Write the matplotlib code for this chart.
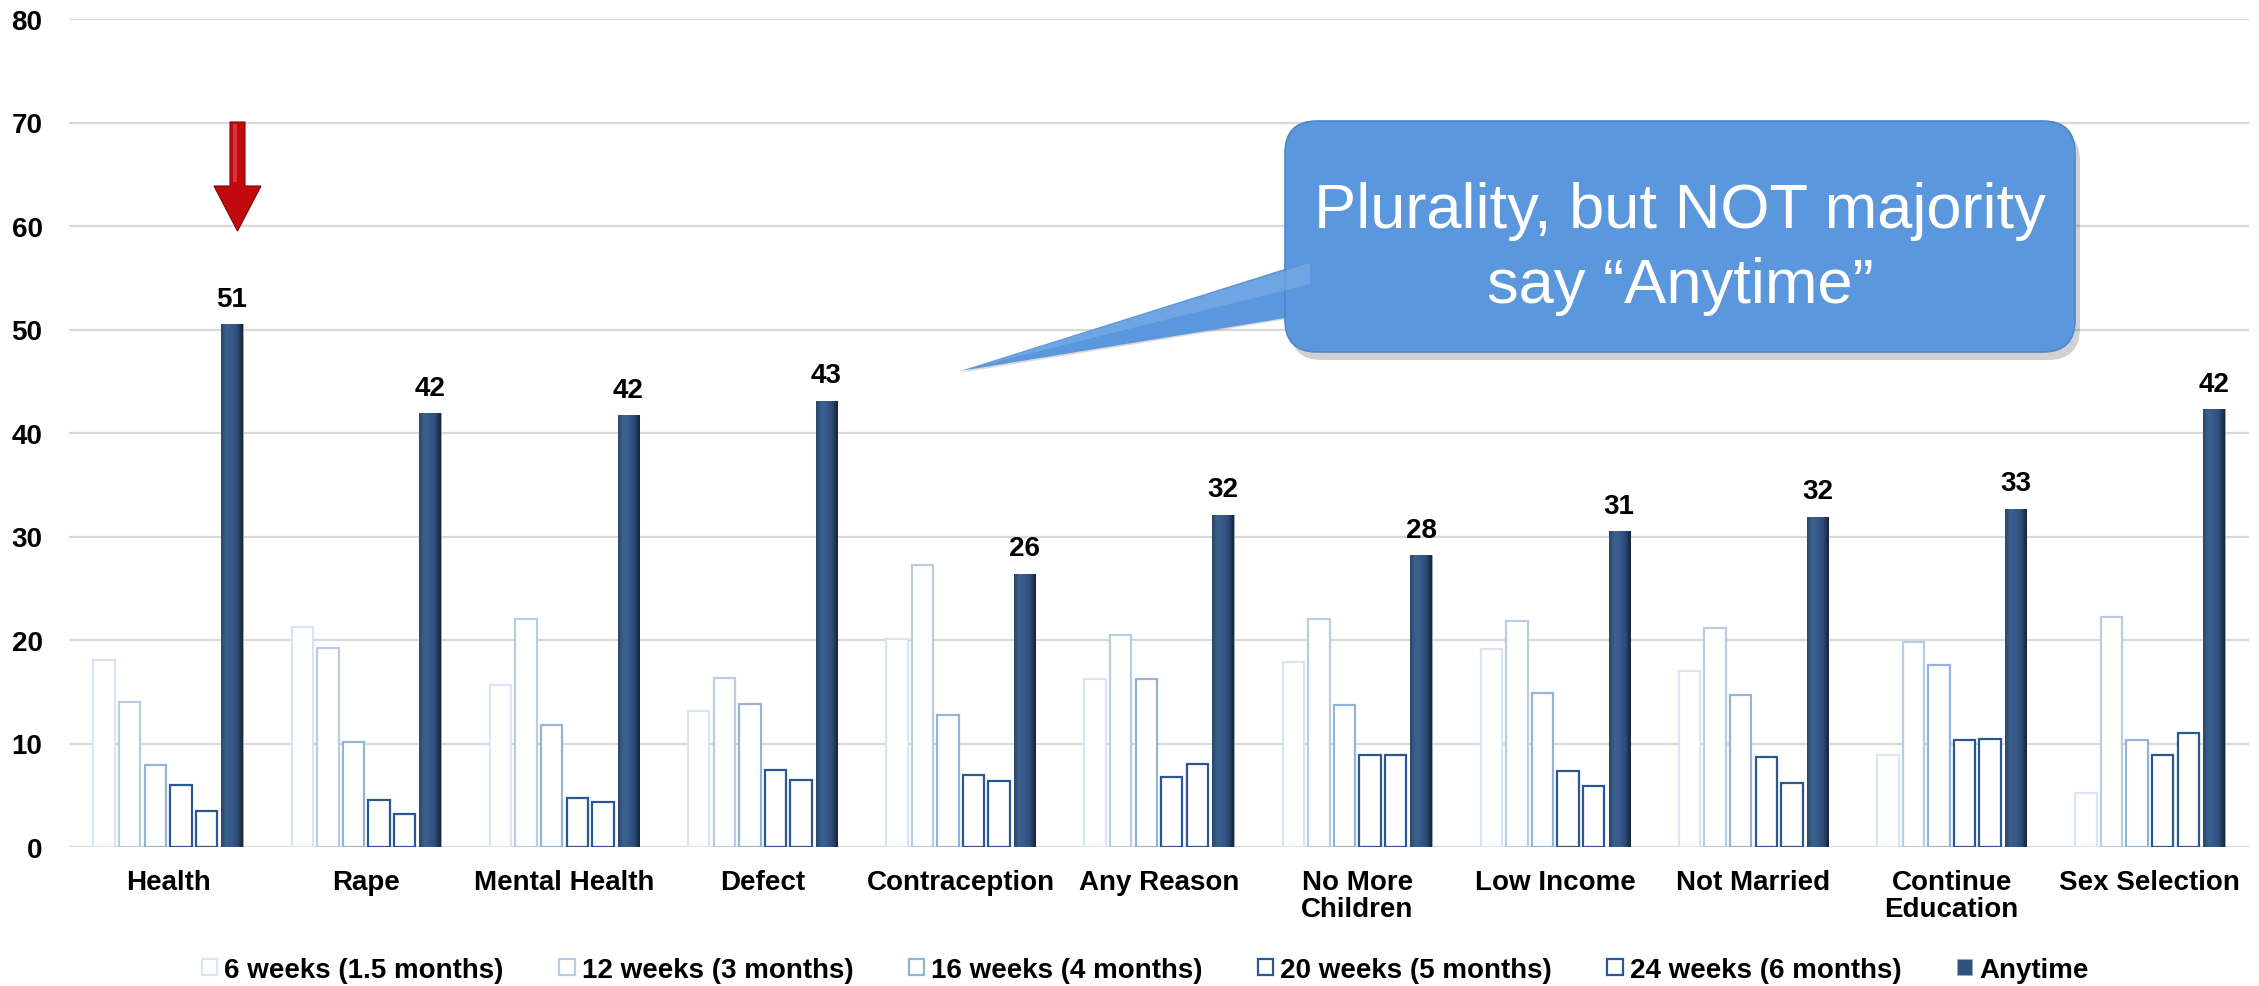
import numpy as np
import matplotlib
matplotlib.use("Agg")
import matplotlib.pyplot as plt
from matplotlib.colors import LinearSegmentedColormap
from matplotlib.patches import FancyBboxPatch, FancyArrow, Polygon

plt.rcParams['font.family'] = ['Liberation Sans', 'DejaVu Sans']

# 数据
categories = ["Health", "Rape", "Mental Health", "Defect", "Contraception", "Any Reason",
              "No More\nChildren", "Low Income", "Not Married", "Continue\nEducation", "Sex Selection"]
series_names = ["6 weeks (1.5 months)", "12 weeks (3 months)", "16 weeks (4 months)",
                "20 weeks (5 months)", "24 weeks (6 months)", "Anytime"]
w6 = [18.1, 21.3, 15.7, 13.1, 20.1, 16.2, 17.9, 19.1, 17.0, 8.9, 5.2]
w12 = [14.0, 19.2, 22.0, 16.3, 27.2, 20.5, 22.0, 21.8, 21.2, 19.8, 22.2]
w16 = [7.9, 10.1, 11.8, 13.8, 12.8, 16.2, 13.7, 14.9, 14.7, 17.6, 10.3]
w20 = [6.0, 4.5, 4.7, 7.4, 7.0, 6.8, 8.9, 7.35, 8.7, 10.3, 8.9]
w24 = [3.5, 3.15, 4.3, 6.5, 6.4, 8.0, 8.9, 5.85, 6.2, 10.4, 11.0]
anytime = [50.5, 41.9, 41.7, 43.1, 26.4, 32.1, 28.2, 30.5, 31.9, 32.7, 42.3]
anytime_labels = ["51", "42", "42", "43", "26", "32", "28", "31", "32", "33", "42"]

outline_colors = ["#dbe5f1", "#b8cce4", "#95b3d7", "#2c5891", "#2c5891"]
any_color = "#2f527f"

fig = plt.figure(figsize=(22.59, 9.87), dpi=100)
W, H = 2259, 987
ax = fig.add_axes([69 / W, 139 / H, (2249 - 69) / W, (848 - 20) / H])

x = np.arange(len(categories))
slot = 0.129
bw = 0.108
outline_data = [w6, w12, w16, w20, w24]
handles = []
for k, vals in enumerate(outline_data):
    b = ax.bar(x + (k - 2.5) * slot, vals, bw, facecolor="white", edgecolor=outline_colors[k],
               linewidth=1.6, zorder=3, label=series_names[k])
    handles.append(b)
bars_any = ax.bar(x + 2.5 * slot, anytime, bw, color=any_color, edgecolor="#9aa9bb",
                  linewidth=0.6, zorder=3, label=series_names[5])
handles.append(bars_any)

# 深色柱子渐变
cmap_any = LinearSegmentedColormap.from_list(
    "any", ["#2b4669", "#3c6290", "#36598a", "#2d4b75", "#152438"])
grad = np.linspace(0, 1, 64).reshape(1, -1)
for b in bars_any:
    x0, y0, bwid, bh = b.get_x(), b.get_y(), b.get_width(), b.get_height()
    im = ax.imshow(grad, cmap=cmap_any, extent=(x0, x0 + bwid, y0, y0 + bh), aspect="auto",
                   interpolation="bicubic", zorder=3.5)
    im.set_clip_path(b)

for b, lab in zip(bars_any, anytime_labels):
    ax.annotate(lab, (b.get_x() + b.get_width() / 2, b.get_height()), xytext=(0, 9),
                textcoords="offset points", ha="center", va="bottom", fontsize=20,
                fontweight="bold", zorder=5)

ax.set_xlim(-0.5, len(categories) - 0.5)
ax.set_ylim(0, 80)
ax.set_yticks(range(0, 81, 10))
ax.set_xticks(x)
ax.set_xticklabels(categories, fontsize=20, fontweight="bold", linespacing=1.05)
ax.tick_params(axis="y", length=0, pad=19, labelsize=20)
ax.tick_params(axis="x", length=0, pad=16)
for t in ax.get_yticklabels():
    t.set_fontweight("bold")
ax.grid(axis="y", color="#d9d9d9", linewidth=1.6, zorder=0)
ax.set_axisbelow(True)
for s in ax.spines.values():
    s.set_visible(False)

leg = fig.legend(handles=handles, labels=series_names, loc="center", ncol=6,
                 bbox_to_anchor=(0.507, 0.0165), frameon=False,
                 prop={"weight": "bold", "size": 20}, handlelength=0.55, handleheight=0.55,
                 handletextpad=0.25, columnspacing=2.0, borderpad=0)

# 标注层（像素坐标）
ov = fig.add_axes([0, 0, 1, 1], zorder=10)
ov.set_xlim(0, W)
ov.set_ylim(H, 0)
ov.axis("off")

# 红色箭头
ov.add_patch(FancyArrow(237.5, 123, 0, 109, width=15, head_width=47, head_length=45,
                        length_includes_head=True, facecolor="#c00a0e", edgecolor="#8a0000",
                        linewidth=0.8))
ov.add_patch(FancyArrow(235, 125, 0, 58, width=4, head_width=0, head_length=0,
                        facecolor="#e04a4a", edgecolor="none", alpha=0.7))

# 气泡框
box_x, box_y, box_w, box_h = 1285, 122, 790, 231
shadow = FancyBboxPatch((box_x + 5, box_y + 8), box_w, box_h,
                        boxstyle="round,pad=0,rounding_size=32",
                        facecolor="#000000", alpha=0.18, edgecolor="none")
ov.add_patch(shadow)
ov.add_patch(Polygon([(1300, 265), (960, 374), (1300, 318)], closed=True,
                     facecolor="#000000", alpha=0.15, edgecolor="none"))
ov.add_patch(Polygon([(1310, 262), (960, 372), (1310, 315)], closed=True,
                     facecolor="#5b97dc", edgecolor="none"))
ov.add_patch(FancyBboxPatch((box_x, box_y), box_w, box_h,
                            boxstyle="round,pad=0,rounding_size=32",
                            facecolor="#5b97dc", edgecolor="#4f86c8", linewidth=1.2))
ov.add_patch(Polygon([(1310, 264), (975, 368), (1310, 285)], closed=True,
                     facecolor="#7fb0ea", edgecolor="none", alpha=0.6))
ov.text(1680, 228, "Plurality, but NOT majority", color="white", fontsize=45.5,
        ha="center", va="baseline")
ov.text(1680, 303, "say \u201cAnytime\u201d", color="white", fontsize=45.5,
        ha="center", va="baseline")

fig.savefig("out.png", dpi=100)
